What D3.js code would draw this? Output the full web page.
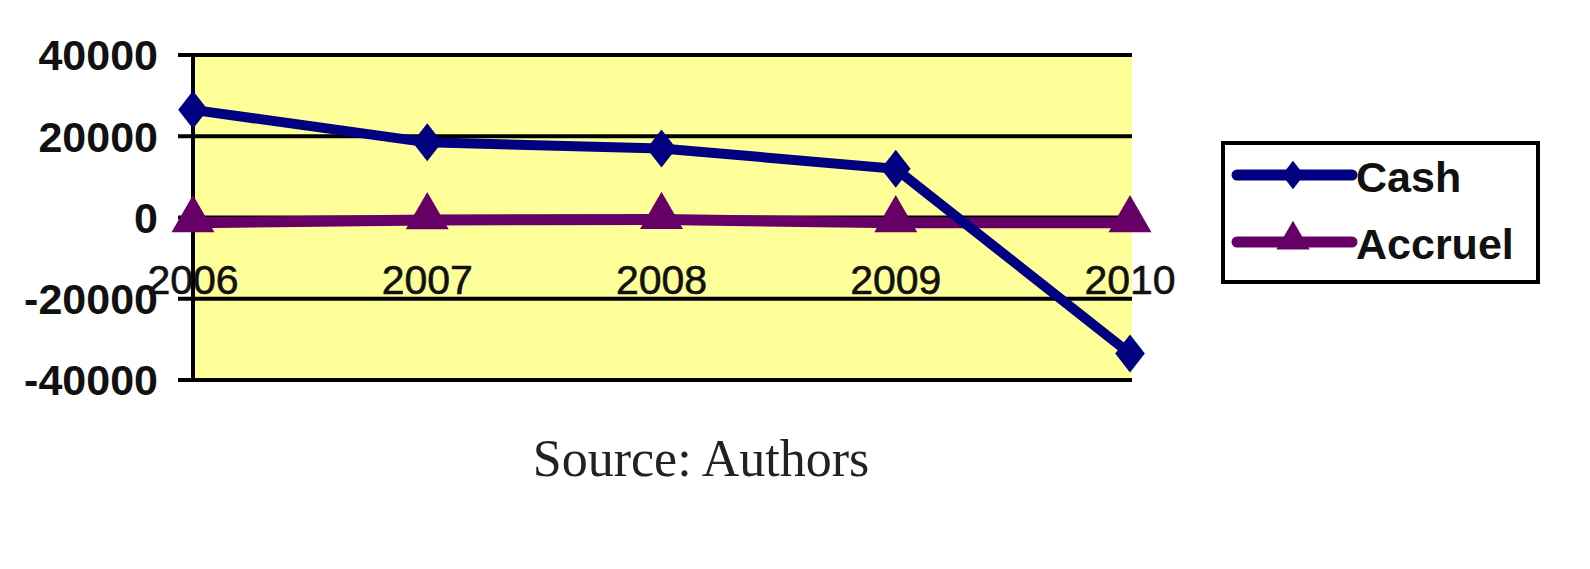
<!DOCTYPE html>
<html><head><meta charset="utf-8">
<script src="https://cdn.jsdelivr.net/npm/d3@7/dist/d3.min.js"></script>
<style>body{margin:0;background:#fff;}svg{display:block;}</style>
</head><body>
<svg id="c" width="1590" height="569"></svg>
<script>
const years = ["2006","2007","2008","2009","2010"];
const cash = [26500, 18500, 17000, 12000, -33500];
const accruel = [-1300, -600, -500, -1300, -1300];
const yTicks = [40000, 20000, 0, -20000, -40000];
const seriesNames = ["Cash", "Accruel"];
const sourceText = "Source: Authors";

const svg = d3.select("#c");
const x0 = 193, x1 = 1130, yTop = 55, yBot = 380;
const x = d3.scalePoint().domain(years).range([x0, x1]);
const y = d3.scaleLinear().domain([-40000, 40000]).range([yBot, yTop]);

// custom wide diamond symbol type
const wideDiamond = {
  draw(ctx, size) {
    const h = Math.sqrt(size / 1.5) , w = h * 0.78;
    ctx.moveTo(0, -h); ctx.lineTo(w, 0); ctx.lineTo(0, h); ctx.lineTo(-w, 0); ctx.closePath();
  }
};

// plot area
svg.append("rect").attr("x", x0).attr("y", yTop).attr("width", x1 - x0 + 2).attr("height", yBot - yTop).attr("fill", "#ffff99");

// gridlines
svg.append("g").selectAll("line").data(yTicks).join("line")
  .attr("x1", 178).attr("x2", x1 + 2).attr("y1", d => y(d)).attr("y2", d => y(d))
  .attr("stroke", "#000").attr("stroke-width", 4);
// y axis line
svg.append("line").attr("x1", x0).attr("x2", x0).attr("y1", yTop - 2).attr("y2", yBot + 2).attr("stroke", "#000").attr("stroke-width", 4);

// y labels
svg.append("g").selectAll("text").data(yTicks).join("text")
  .attr("x", 158).attr("y", d => y(d)).attr("dy", "0.36em").attr("text-anchor", "end")
  .attr("font-family", "Liberation Sans, Arial, sans-serif").attr("font-weight", "bold")
  .attr("font-size", 43).attr("fill", "#111").text(d => d);

// x labels
svg.append("g").selectAll("text").data(years).join("text")
  .attr("x", d => x(d)).attr("y", 294).attr("text-anchor", "middle")
  .attr("font-family", "Liberation Sans, Arial, sans-serif")
  .attr("font-size", 41).attr("fill", "#111").attr("stroke", "#111").attr("stroke-width", 0.6).text(d => d);

const line = d3.line().x((d, i) => x(years[i])).y(d => y(d));
const colA = "#660066", colC = "#000080";

// Accruel
svg.append("path").datum(accruel).attr("d", line).attr("fill", "none").attr("stroke", colA).attr("stroke-width", 11);
const tri = d3.symbol().type(d3.symbolTriangle).size(800);
svg.append("g").selectAll("path").data(accruel).join("path")
  .attr("d", tri).attr("transform", (d, i) => `translate(${x(years[i])},${y(d) - 3})`).attr("fill", colA);

// Cash
svg.append("path").datum(cash).attr("d", line).attr("fill", "none").attr("stroke", colC).attr("stroke-width", 10);
const dia = d3.symbol().type(wideDiamond).size(540);
svg.append("g").selectAll("path").data(cash).join("path")
  .attr("d", dia).attr("transform", (d, i) => `translate(${x(years[i])},${y(d)})`).attr("fill", colC);

// legend
const lg = svg.append("g");
lg.append("rect").attr("x", 1223).attr("y", 143).attr("width", 315).attr("height", 139)
  .attr("fill", "#fff").attr("stroke", "#000").attr("stroke-width", 4);
const legY = [175, 242], cols = [colC, colA];
seriesNames.forEach((n, i) => {
  lg.append("line").attr("x1", 1237).attr("x2", 1352).attr("y1", legY[i]).attr("y2", legY[i])
    .attr("stroke", cols[i]).attr("stroke-width", 11).attr("stroke-linecap", "round");
  lg.append("path").attr("d", i === 0 ? d3.symbol().type(wideDiamond).size(300)() : d3.symbol().type(d3.symbolTriangle).size(480)())
    .attr("transform", `translate(1293,${legY[i] - (i ? 2 : 0)})`).attr("fill", cols[i]);
  lg.append("text").attr("x", 1356).attr("y", legY[i] + 17).attr("font-family", "Liberation Sans, Arial, sans-serif")
    .attr("font-size", 43).attr("font-weight", "bold").attr("fill", "#111").text(n);
});

// source
svg.append("text").attr("x", 701).attr("y", 476).attr("text-anchor", "middle")
  .attr("font-family", "Liberation Serif, Times New Roman, serif").attr("font-size", 52).attr("fill", "#222").text(sourceText);
</script>
</body></html>
